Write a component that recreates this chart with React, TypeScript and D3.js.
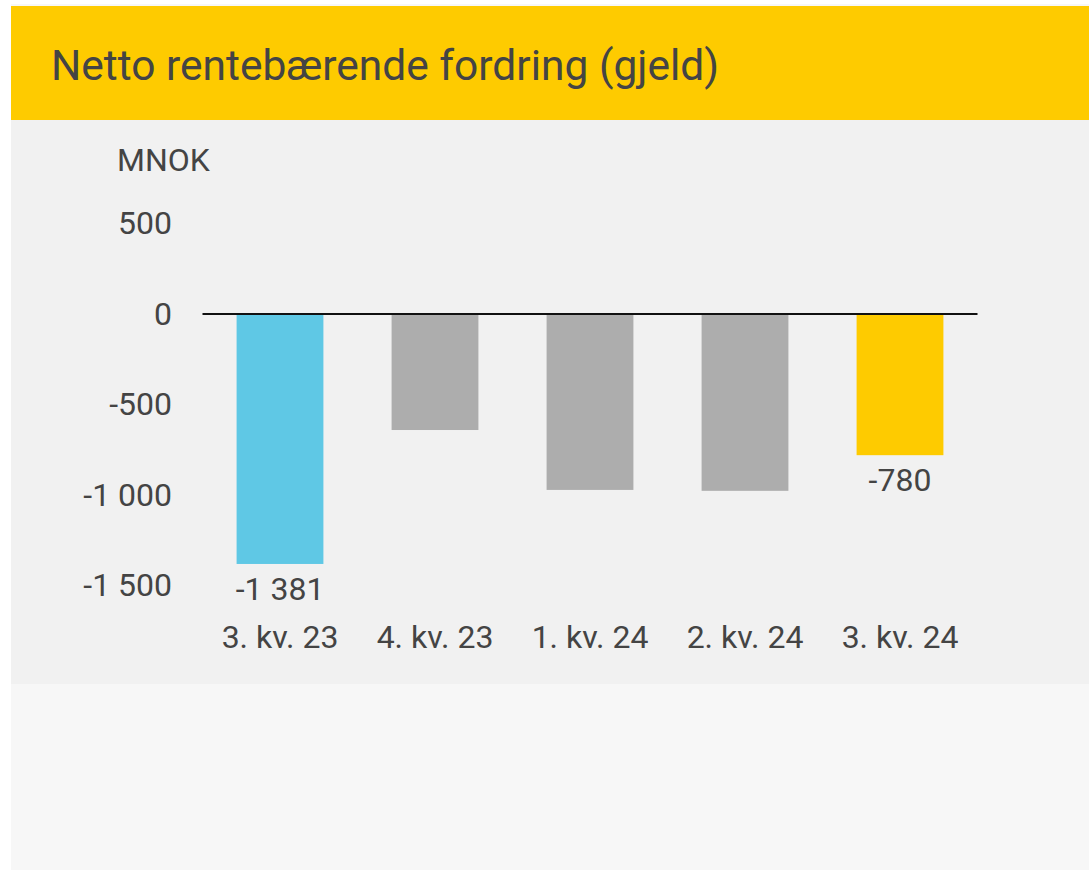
import React from "react";
import * as d3 from "d3";

const categories = ["3. kv. 23", "4. kv. 23", "1. kv. 24", "2. kv. 24", "3. kv. 24"];
const values = [-1381, -641, -972, -977, -780];
const barColors = ["#5fc8e5", "#adadad", "#adadad", "#adadad", "#fecb00"];
const showLabel = [true, false, false, false, true];
const yTicks = [500, 0, -500, -1000, -1500];

const fmt = (v: number) => {
  const s = Math.abs(v).toString().replace(/\B(?=(\d{3})+(?!\d))/g, " ");
  return (v < 0 ? "-" : "") + s;
};

export default function App() {
  const W = 1089;
  const H = 871;
  const x = d3.scaleBand<string>().domain(categories).range([202.5, 977.5]).paddingInner(0.44).paddingOuter(0.22);
  const y = d3.scaleLinear().domain([-1500, 500]).range([585.5, 223.5]);
  const font = "Roboto, 'Noto Sans', sans-serif";
  const textColor = "#444444";

  return (
    <svg width={W} height={H} style={{ position: "absolute", left: 0, top: 0 }} fontFamily={font}>
      <rect x={0} y={0} width={W} height={H} fill="#ffffff" />
      <rect x={11} y={4} width={W - 11} height={866} fill="#f7f7f7" />
      <rect x={11} y={6} width={W - 11} height={114} fill="#fecb00" />
      <rect x={11} y={120} width={W - 11} height={564} fill="#f1f1f1" />
      <text x={51} y={80} fontSize={42.5} fill={textColor}>
        Netto rentebærende fordring (gjeld)
      </text>
      <text x={117} y={171} fontSize={32} fill={textColor}>
        MNOK
      </text>
      {yTicks.map((t) => (
        <text key={t} x={172} y={y(t)} dy="0.33em" fontSize={32} fill={textColor} textAnchor="end">
          {fmt(t)}
        </text>
      ))}
      {categories.map((c, i) => {
        const v = values[i];
        const bx = x(c)!;
        const bw = x.bandwidth();
        const y0 = y(0);
        const y1 = y(v);
        return (
          <g key={c}>
            <rect x={bx} y={Math.min(y0, y1)} width={bw} height={Math.abs(y1 - y0)} fill={barColors[i]} />
            {showLabel[i] && (
              <text x={bx + bw / 2} y={y1 + 36} fontSize={32} fill={textColor} textAnchor="middle">
                {fmt(v)}
              </text>
            )}
            <text x={bx + bw / 2} y={648} fontSize={32} fill={textColor} textAnchor="middle">
              {c}
            </text>
          </g>
        );
      })}
      <line x1={x.range()[0]} x2={x.range()[1]} y1={y(0)} y2={y(0)} stroke="#111111" strokeWidth={2} />
    </svg>
  );
}
